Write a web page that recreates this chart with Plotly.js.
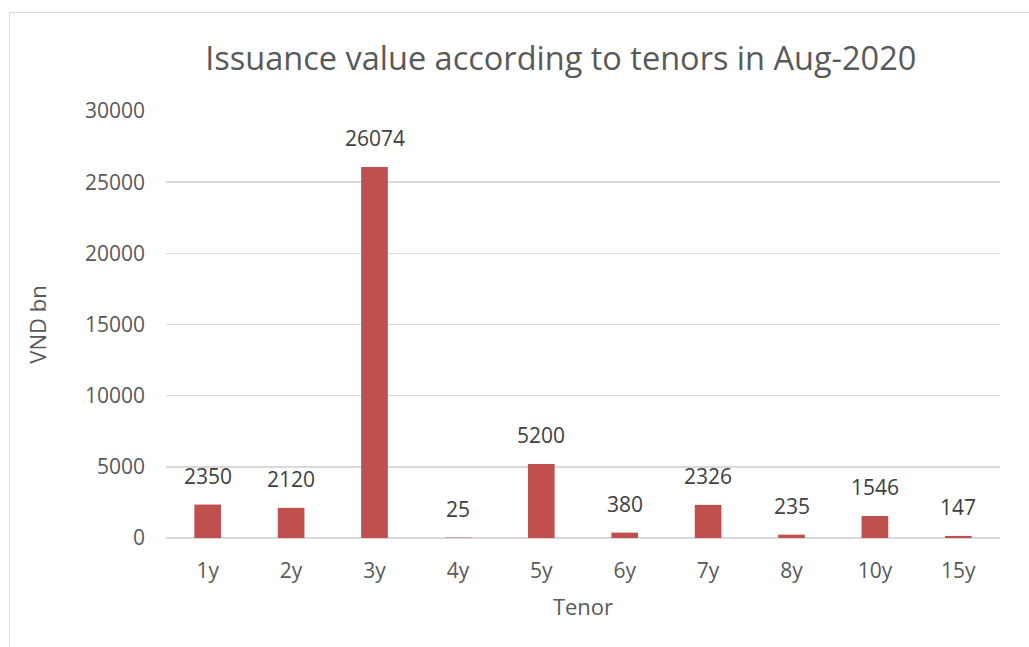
<!DOCTYPE html>
<html>
<head>
<meta charset="utf-8">
<script src="https://cdn.plot.ly/plotly-3.0.1.min.js"></script>
<style>
body{margin:0;background:#fff;}
#frame{position:absolute;left:9px;top:12px;width:1100px;height:700px;border:1.5px solid #d9d9d9;box-sizing:border-box;}
#chart{position:absolute;left:0;top:0;width:1029px;height:647px;}
</style>
</head>
<body>
<div id="frame"></div>
<div id="chart"></div>
<script>
const tenors = ["1y","2y","3y","4y","5y","6y","7y","8y","10y","15y"];
const values = [2350,2120,26074,25,5200,380,2326,235,1546,147];
const yTicks = [0,5000,10000,15000,20000,25000,30000];

const FONT = "Open Sans, sans-serif";

const trace = {
  type: "bar",
  x: tenors,
  y: values,
  marker: {color: "#C0504D"},
  hoverinfo: "x+y"
};

const annotations = tenors.map((t, i) => ({
  x: t, y: values[i], xref: "x", yref: "y",
  text: String(values[i]),
  showarrow: false,
  yanchor: "bottom",
  yshift: 13,
  font: {family: FONT, size: 21, color: "#404040"}
}));

const layout = {
  width: 1029, height: 647,
  paper_bgcolor: "rgba(0,0,0,0)",
  plot_bgcolor: "rgba(0,0,0,0)",
  margin: {l: 166, r: 29, t: 111, b: 109},
  title: {
    text: "Issuance value according to tenors in Aug-2020",
    font: {family: FONT, size: 32.5, color: "#595959"},
    x: 0.545, xanchor: "center", y: 0.91, yanchor: "middle"
  },
  bargap: 0.68,
  showlegend: false,
  xaxis: {
    type: "category",
    tickfont: {family: FONT, size: 21, color: "#595959"},
    ticks: "", showgrid: false, showline: false, zeroline: false,
    ticklabelstandoff: 18,
    title: {text: "Tenor", font: {family: FONT, size: 22, color: "#595959"}, standoff: 16}
  },
  yaxis: {
    range: [0, 30000],
    tickvals: yTicks,
    ticktext: yTicks.map(String),
    tickfont: {family: FONT, size: 21, color: "#595959"},
    showgrid: true, gridcolor: "#d9d9d9", gridwidth: 1.5,
    zeroline: true, zerolinecolor: "#d9d9d9", zerolinewidth: 1.5,
    showline: false, ticks: "",
    ticklabelstandoff: 20,
    title: {text: "VND bn", font: {family: FONT, size: 22, color: "#595959"}, standoff: 32}
  },
  annotations: annotations
};

Plotly.newPlot("chart", [trace], layout, {displayModeBar: false, staticPlot: true});
</script>
</body>
</html>
